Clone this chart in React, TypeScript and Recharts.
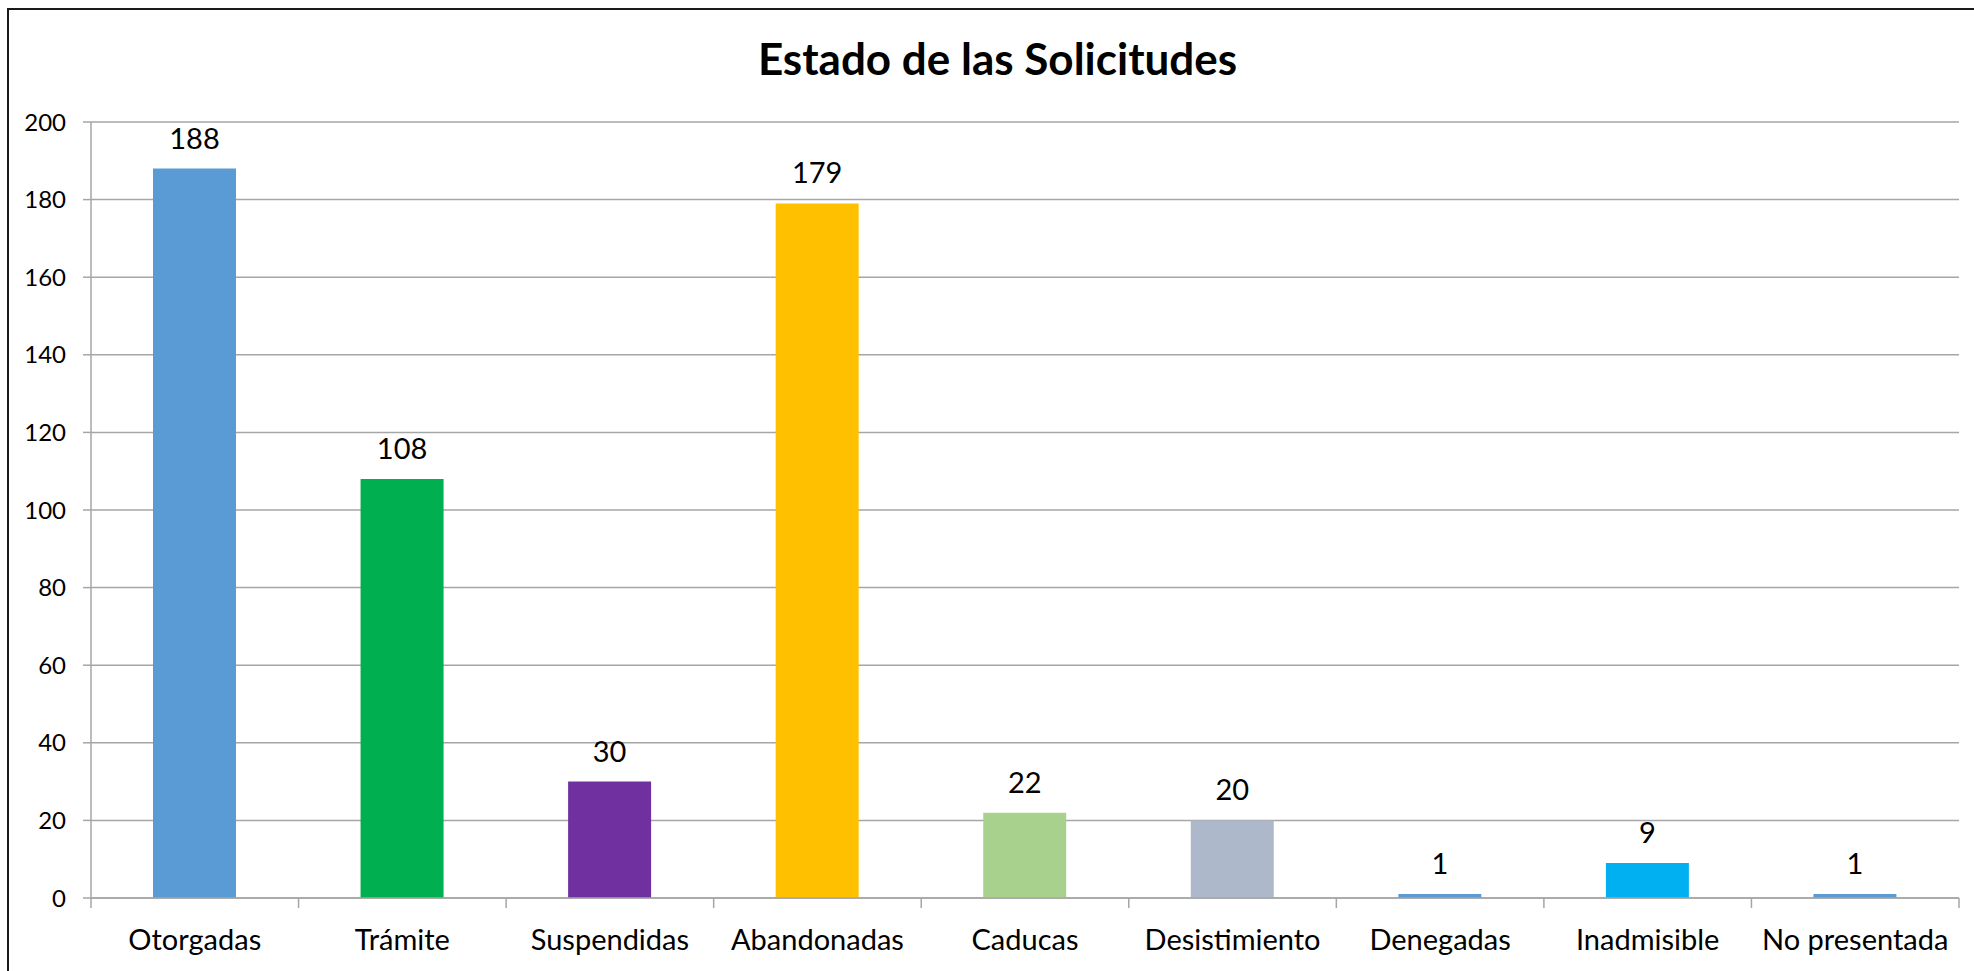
import { BarChart, Bar, XAxis, YAxis, CartesianGrid, Cell, LabelList } from "recharts";

const CATEGORIES = [
  "Otorgadas",
  "Trámite",
  "Suspendidas",
  "Abandonadas",
  "Caducas",
  "Desistimiento",
  "Denegadas",
  "Inadmisible",
  "No presentada",
];

const VALUES = [188, 108, 30, 179, 22, 20, 1, 9, 1];

const BAR_COLORS = [
  "#5B9BD5",
  "#00B050",
  "#7030A0",
  "#FFC000",
  "#A9D18E",
  "#ADB9CA",
  "#5B9BD5",
  "#00B0F0",
  "#5B9BD5",
];

const Y_TICKS = [0, 20, 40, 60, 80, 100, 120, 140, 160, 180, 200];

const TITLE = "Estado de las Solicitudes";

const FONT = "Lato, 'Open Sans', sans-serif";
const GRID = "#A6A6A6";

// category boundary positions 0..n, used for the small ticks between bars
const EDGE_TICKS = [...CATEGORIES.map((_, i) => i), CATEGORIES.length];

export default function App() {
  const data = CATEGORIES.map((name, i) => ({ name, value: VALUES[i], slot: i }));

  return (
    <div
      style={{
        position: "absolute",
        left: 0,
        top: 0,
        width: 1974,
        height: 971,
        overflow: "hidden",
        background: "#fff",
        fontFamily: FONT,
      }}
    >
      <div
        style={{
          position: "absolute",
          left: 7,
          top: 8,
          width: 2000,
          height: 1000,
          border: "2px solid #1a1a1a",
          boxSizing: "border-box",
        }}
      />
      <div
        style={{
          position: "absolute",
          left: 0,
          top: 36,
          width: 1995,
          textAlign: "center",
          fontSize: 44,
          lineHeight: "44px",
          fontWeight: 700,
          color: "#000",
        }}
      >
        {TITLE}
      </div>
      <div style={{ position: "absolute", left: 0, top: 0 }}>
        <BarChart
          width={1974}
          height={971}
          data={data}
          margin={{ top: 122, right: 15, left: 0, bottom: 32 }}
        >
          <CartesianGrid vertical={false} stroke={GRID} strokeWidth={1.5} />
          {/* boundary ticks between categories, sits right on the plot edge */}
          <XAxis
            dataKey="slot"
            type="number"
            domain={[0, CATEGORIES.length]}
            ticks={EDGE_TICKS}
            allowDataOverflow
            height={1}
            axisLine={{ stroke: GRID, strokeWidth: 1.5 }}
            tick={() => <g />}
            tickSize={10}
            tickLine={{ stroke: GRID, strokeWidth: 1.5 }}
          />
          <XAxis
            xAxisId="cat"
            dataKey="name"
            height={40}
            interval={0}
            tickLine={false}
            tickSize={0}
            tickMargin={30}
            axisLine={false}
            tick={{ fill: "#000", fontSize: 29, fontFamily: FONT }}
          />
          <YAxis
            width={91}
            domain={[0, 200]}
            ticks={Y_TICKS}
            interval={0}
            tickSize={8}
            tickMargin={17}
            axisLine={{ stroke: GRID, strokeWidth: 1.5 }}
            tickLine={{ stroke: GRID, strokeWidth: 1.5 }}
            tick={{ fill: "#000", fontSize: 24, fontFamily: FONT }}
          />
          <Bar dataKey="value" xAxisId="cat" barSize={83} isAnimationActive={false}>
            {data.map((_, i) => (
              <Cell key={`cell-${i}`} fill={BAR_COLORS[i % BAR_COLORS.length]} />
            ))}
            <LabelList
              dataKey="value"
              position="top"
              offset={20}
              fill="#000"
              fontSize={29}
              fontFamily={FONT}
            />
          </Bar>
        </BarChart>
      </div>
    </div>
  );
}
